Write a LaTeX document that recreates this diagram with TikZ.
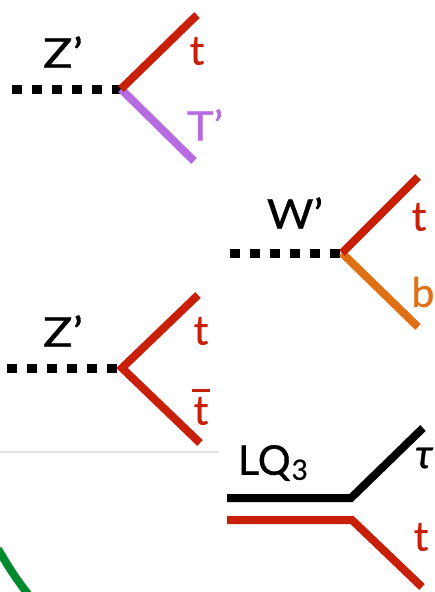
\documentclass[tikz,border=0pt]{standalone}
\usepackage{fontspec}
\setmainfont{Lato}[FakeBold=0.7]
\definecolor{topred}{RGB}{200,32,8}
\definecolor{tpurple}{RGB}{182,108,224}
\definecolor{borange}{RGB}{224,112,20}
\definecolor{arcgreen}{RGB}{0,138,48}
\definecolor{sepgray}{RGB}{228,228,228}
\tikzset{
  boson/.style={line width=9pt, dash pattern=on 10pt off 10pt},
  fermion/.style={line width=8pt},
  lbl/.style={inner sep=0pt, font=\fontsize{41}{43}\selectfont},
}
\begin{document}
\begin{tikzpicture}[x=1pt,y=-1pt]
\useasboundingbox (0,0) rectangle (434,592);
% separator line
\draw[sepgray, line width=1.2pt] (0,452) -- (219,452);
% green arc
\draw[arcgreen, line width=8pt] (-2,549) .. controls (8,566) and (16,579) .. (28,594);

% Diagram 1: Z' -> t T'
\coordinate (z1in) at (12,89);
\coordinate (v1) at (121,89);
\coordinate (t1) at (197,15);
\coordinate (tp1) at (194,161);
\draw[boson] (z1in) -- (v1);
\draw[fermion, tpurple] (v1) -- (tp1);
\draw[fermion, topred] (v1) -- (t1);
\node[lbl, xscale=1.2] (z1lbl) at (63,52) {Z’};
\node[lbl, topred] (t1lbl) at (197,51) {t};
\node[lbl, tpurple, xscale=1.1] (tp1lbl) at (205,125) {T’};

% Diagram 2: W' -> t b
\coordinate (w2in) at (230,253);
\coordinate (v2) at (342,253);
\coordinate (t2) at (418,177);
\coordinate (b2) at (418,327);
\draw[boson] (w2in) -- (v2);
\draw[fermion, borange] (v2) -- (b2);
\draw[fermion, topred] (v2) -- (t2);
\node[lbl, xscale=1.1] (w2lbl) at (295,213) {W’};
\node[lbl, topred] (t2lbl) at (419,217) {t};
\node[lbl, borange] (b2lbl) at (423,292) {b};

% Diagram 3: Z' -> t tbar
\coordinate (z3in) at (7,368);
\coordinate (v3) at (122,368);
\coordinate (t3) at (198,295);
\coordinate (tb3) at (200,443);
\draw[boson] (z3in) -- (v3);
\draw[fermion, topred] (t3) -- (v3) -- (tb3);
\node[lbl, xscale=1.2] (z3lbl) at (63,331) {Z’};
\node[lbl, topred] (t3lbl) at (201,331) {t};
\node[lbl, topred] (tb3lbl) at (201,411) {t};
\draw[topred, line width=2.8pt] ([xshift=-1pt,yshift=6pt]tb3lbl.north west) -- ([xshift=1pt,yshift=6pt]tb3lbl.north east);

% Diagram 4: LQ3 -> tau t
\coordinate (lqa) at (227,498);
\coordinate (v4a) at (351,498);
\coordinate (tau4) at (423,428);
\coordinate (lqb) at (227,520);
\coordinate (v4b) at (352,520);
\coordinate (t4) at (422,587);
\draw[fermion, line join=miter] (lqa) -- (v4a) -- (tau4);
\draw[fermion, topred, line join=miter] (lqb) -- (v4b) -- (t4);
\node[lbl] (lq4lbl) at (273,463) {LQ\kern1pt\raisebox{-5pt}{\fontsize{28}{30}\selectfont 3}};
\node[lbl] (tau4lbl) at (424,458) {\itshape τ};
\node[lbl, topred] (t4lbl) at (421,537) {t};
\end{tikzpicture}
\end{document}
